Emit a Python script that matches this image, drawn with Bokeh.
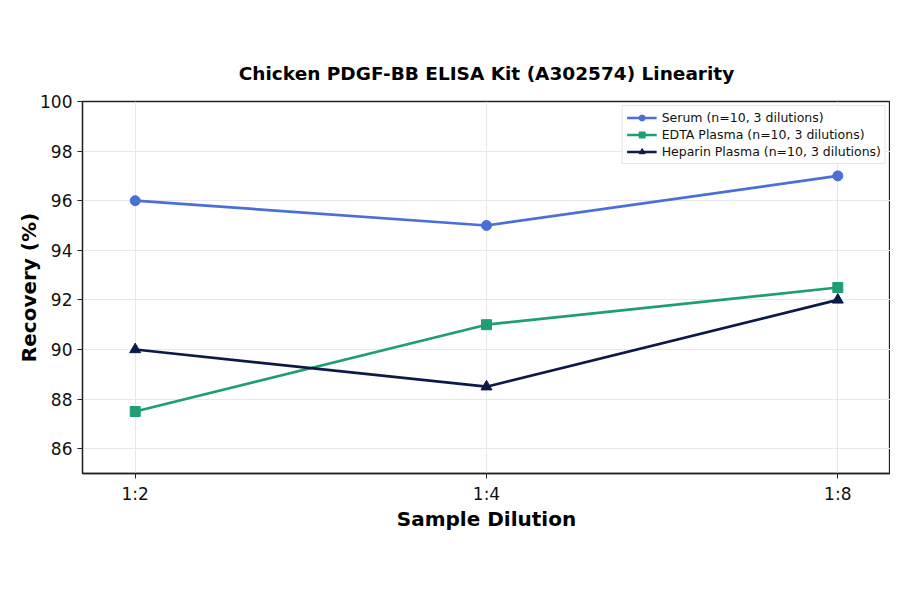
from bokeh.embed import file_html
from bokeh.models import Range1d, FixedTicker, Legend, LegendItem
from bokeh.plotting import figure
from bokeh.resources import INLINE

# dilution steps on the x axis
dilutions = ["1:2", "1:4", "1:8"]

# recovery (%) per sample type
serum = [96.0, 95.0, 97.0]
edta_plasma = [87.5, 91.0, 92.5]
heparin_plasma = [90.0, 88.5, 92.0]

y_ticks = [86, 88, 90, 92, 94, 96, 98, 100]

FONT = "DejaVu Sans"
x_pos = list(range(len(dilutions)))

p = figure(
    width=890,
    height=578,
    output_backend="svg",
    toolbar_location=None,
    x_range=Range1d(-0.15, len(dilutions) - 1 + 0.15),
    y_range=Range1d(85, 100),
    min_border_left=82,
    min_border_right=0,
    min_border_top=101,
    min_border_bottom=105,
    title="Chicken PDGF-BB ELISA Kit (A302574) Linearity",
)

# title
p.title.align = "center"
p.title.text_font = FONT
p.title.text_font_size = "18.5px"
p.title.text_font_style = "bold"
p.title.text_color = "#000000"
p.title.offset = 0
p.title.standoff = 36

# frame
p.outline_line_color = "#222222"
p.outline_line_width = 1.3
p.background_fill_color = "white"
p.border_fill_color = "white"

# axes
p.xaxis.ticker = FixedTicker(ticks=x_pos)
p.xaxis.major_label_overrides = {i: lab for i, lab in enumerate(dilutions)}
p.yaxis.ticker = FixedTicker(ticks=y_ticks)
for ax in (p.xaxis[0], p.yaxis[0]):
    ax.axis_line_color = "#222222"
    ax.axis_line_width = 1.3
    ax.major_tick_line_color = "#222222"
    ax.major_tick_out = 5
    ax.major_tick_in = 0
    ax.minor_tick_line_color = None
    ax.major_label_text_font = FONT
    ax.major_label_text_font_size = "17px"
    ax.major_label_text_color = "#111111"
    ax.axis_label_text_font = FONT
    ax.axis_label_text_font_size = "20px"
    ax.axis_label_text_font_style = "bold"
    ax.axis_label_text_color = "#000000"
p.xaxis.axis_label = "Sample Dilution"
p.yaxis.axis_label = "Recovery (%)"
p.xaxis.axis_label_standoff = 0
p.yaxis.axis_label_standoff = -4

# grid
p.xgrid.grid_line_color = "#e8e8e8"
p.ygrid.grid_line_color = "#e8e8e8"
p.xgrid.grid_line_width = 1
p.ygrid.grid_line_width = 1

# series
series = [
    ("Serum (n=10, 3 dilutions)", serum, "#4a6fd8", "circle"),
    ("EDTA Plasma (n=10, 3 dilutions)", edta_plasma, "#1f9e74", "square"),
    ("Heparin Plasma (n=10, 3 dilutions)", heparin_plasma, "#0c1a48", "triangle"),
]

items = []
for label, vals, color, marker in series:
    ln = p.line(x_pos, vals, line_color=color, line_width=2.7)
    mk = p.scatter(x_pos, vals, marker=marker, size=10 if marker != "triangle" else 11,
                   fill_color=color, line_color=color)
    items.append(LegendItem(label=label, renderers=[ln, mk]))

legend = Legend(
    items=items,
    location="top_right",
    label_text_font=FONT,
    label_text_font_size="12.5px",
    label_text_color="#111111",
    border_line_color="#cccccc",
    border_line_width=1,
    background_fill_alpha=0.9,
    glyph_width=30,
    glyph_height=15,
    label_height=15,
    spacing=2,
    padding=4,
    margin=4,
)
p.add_layout(legend)

open("out.html", "w").write(file_html(p, INLINE))
